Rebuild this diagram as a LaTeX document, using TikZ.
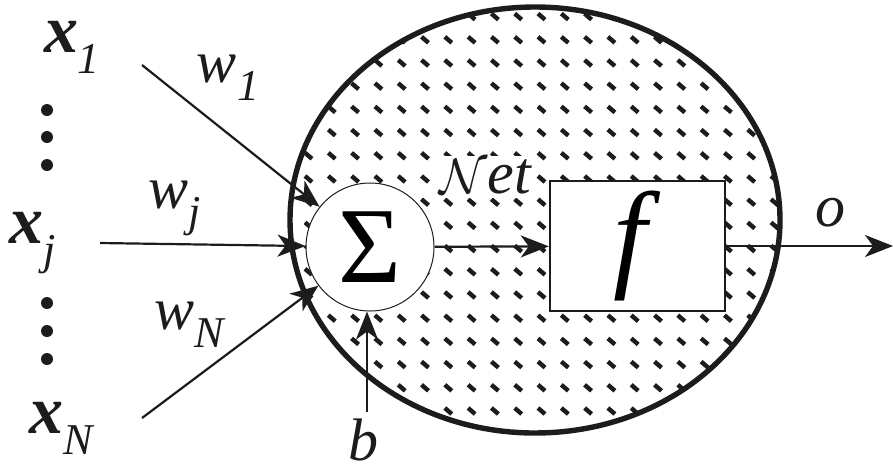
\documentclass[tikz,border=0pt]{standalone}
\usepackage{fontspec}
\setmainfont{Liberation Serif}
\usetikzlibrary{arrows.meta,positioning,calc}
\definecolor{ink}{RGB}{28,28,28}
\tikzset{
  arr/.style={-{Stealth[length=14pt,width=11pt,inset=4pt]},line width=1.1pt,draw=ink},
  cell/.style={draw=ink,line width=2.7pt},
  sumnode/.style={circle,draw=ink,line width=0.5pt,fill=white,minimum size=64pt,inner sep=0pt},
  actbox/.style={draw=ink,line width=1.2pt,fill=white,minimum width=87.5pt,minimum height=65pt,inner sep=0pt},
  lab/.style={font=\fontsize{30}{32}\selectfont,text=ink,inner sep=0pt},
  dotn/.style={circle,fill=ink,inner sep=0pt,minimum size=6pt},
  tick/.style={line width=2.2pt,draw=ink}
}
\newcommand{\inp}[1]{{\fontsize{34}{34}\selectfont\textbf{\textit{x}}}\raisebox{-0.35em}{\fontsize{22}{22}\selectfont\textit{#1}}}
\newcommand{\wgt}[1]{\textit{w}\raisebox{-0.3em}{\fontsize{22}{22}\selectfont\textit{#1}}}

\begin{document}
\begin{tikzpicture}[x=0.5pt,y=-0.5pt]
  \useasboundingbox (0,0) rectangle (893,473);
  \coordinate (c) at (535,220);
  \begin{scope}
    \clip (c) ellipse [x radius=245, y radius=213];
    \foreach \i in {-6,...,16}
      \foreach \j in {-3,...,16}
        \draw[tick] (421.5+23.3*\i,60+23.2*\j) -- ++(7,6);
  \end{scope}
  \draw[cell] (c) ellipse [x radius=245, y radius=213];

  \node[sumnode] (sum) at (370,247) {\fontsize{54}{54}\selectfont Σ};
  \node[actbox] (act) at (637.5,246) {\fontsize{60}{60}\selectfont\textit{f}};
  \node[lab,fill=white,inner sep=2pt] (net) at (486,177) {$\mathcal{N}$\textit{et}};

  \node[lab] (x1) at (72,47) {\inp{1}};
  \node[lab] (xj) at (33,243) {\inp{j}};
  \node[lab] (xN) at (62,428) {\inp{N}};
  \foreach \y in {110,137,165,303,331,359}
    \node[dotn] (d\y) at (47,\y) {};

  \coordinate (s1) at (142,65);
  \coordinate (sj) at (100,243);
  \coordinate (sN) at (142,418);
  \coordinate (sb) at (367,412);
  \coordinate (out) at (893,243);
  \draw[arr] (s1) -- (sum);
  \draw[arr] (sj) -- (sum);
  \draw[arr] (sN) -- (sum);
  \draw[arr] (sb) -- (sb |- sum.south);
  \draw[arr] (sum) -- (act);
  \draw[arr] (act.east) -- (out |- act.east);

  \node[lab] (w1) at (228,78) {\wgt{1}};
  \node[lab] (wj) at (175,208) {\wgt{j}};
  \node[lab] (wN) at (190,325) {\wgt{N}};
  \node[lab] (o) at (830,213) {\textit{o}};
  \node[lab] (b) at (363,440) {\textit{b}};
\end{tikzpicture}
\end{document}
